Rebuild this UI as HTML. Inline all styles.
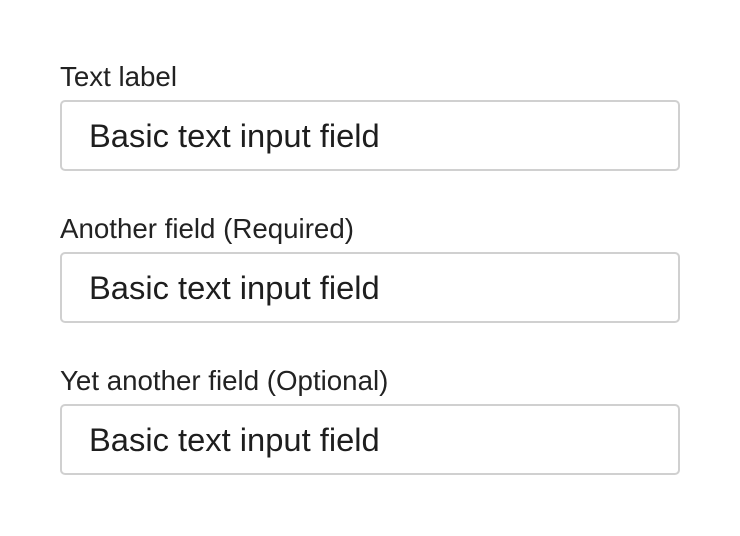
<!DOCTYPE html>
<html><head><style>
body{margin:0;width:740px;height:536px;background:#fff;position:relative;font-family:"Liberation Sans",Arial,sans-serif;color:#222;}
.l{position:absolute;left:60px;font-size:27.7px;line-height:1;}
.b{position:absolute;left:60px;width:616px;height:67px;border:2px solid #d0d0d0;border-radius:5px;}
.t{position:absolute;left:89px;font-size:32.7px;line-height:1;color:#1e1e1e;}
</style></head><body>
<div class="l" style="top:63px">Text label</div>
<div class="b" style="top:100px"></div>
<div class="t" style="top:120px">Basic text input field</div>
<div class="l" style="top:215px">Another field (Required)</div>
<div class="b" style="top:252px"></div>
<div class="t" style="top:272px">Basic text input field</div>
<div class="l" style="top:367px">Yet another field (Optional)</div>
<div class="b" style="top:404px"></div>
<div class="t" style="top:424px">Basic text input field</div>
</body></html>
